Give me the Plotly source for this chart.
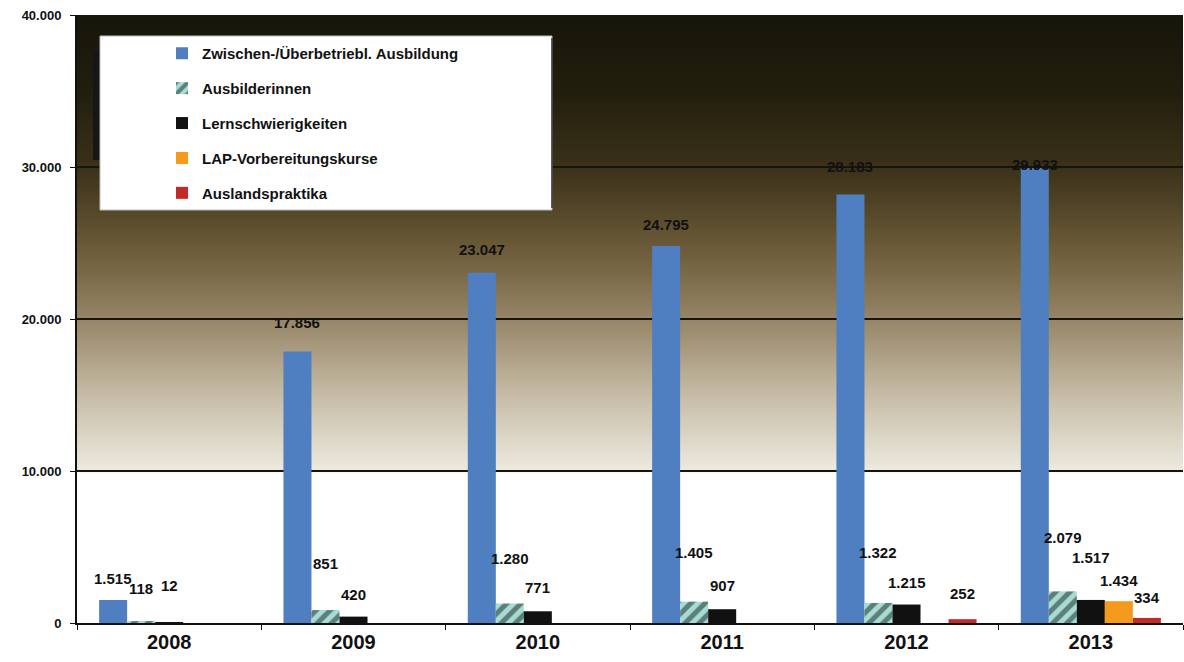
import plotly.graph_objects as go

# --- data -------------------------------------------------------------
years = ["2008", "2009", "2010", "2011", "2012", "2013"]
zwischen = [1515, 17856, 23047, 24795, 28183, 29933]
ausbilder = [118, 851, 1280, 1405, 1322, 2079]
lern = [12, 420, 771, 907, 1215, 1517]
lap = [None, None, None, None, None, 1434]
ausland = [None, None, None, None, 252, 334]

series_names = [
    "Zwischen-/Überbetriebl. Ausbildung",
    "Ausbilderinnen",
    "Lernschwierigkeiten",
    "LAP-Vorbereitungskurse",
    "Auslandspraktika",
]

# --- styling ----------------------------------------------------------
FONT = "Arial, Liberation Sans, sans-serif"
colors = ["#4f7fc0", "#a6dcd3", "#111111", "#f59a1c", "#c22b25"]
# vertical distance (px) of each value label above its bar
label_lift = [
    [21, 29, 23, 22, 28, 4],
    [33, 47, 45, 49, 50, 54],
    [37, 22, 24, 24, 22, 42],
    [0, 0, 0, 0, 0, 21],
    [0, 0, 0, 0, 26, 20],
]

W, H = 1184, 662
ML, MR, MT, MB = 77, 1, 15, 39
plot_w = W - ML - MR
BARGAP = 0.24
slot_px = plot_w / len(years) * (1 - BARGAP) / 5

fig = go.Figure()
all_series = [zwischen, ausbilder, lern, lap, ausland]
for i, (name, vals) in enumerate(zip(series_names, all_series)):
    marker = dict(color=colors[i], line=dict(width=0))
    if i == 1:
        marker["pattern"] = dict(shape="/", fgcolor="#13201f", size=10,
                                 solidity=0.5, fillmode="overlay")
    fig.add_trace(go.Bar(
        x=years, y=vals, name=name, marker=marker,
        legendgroup=f"g{i}",
    ))

# value labels above the bars (x given as category index)
for i, vals in enumerate(all_series):
    for j, v in enumerate(vals):
        if v is None:
            continue
        fig.add_annotation(
            x=j, y=v, xref="x", yref="y",
            text=f"{v:,}".replace(",", "."),
            showarrow=False, xanchor="center", yanchor="middle",
            xshift=(i - 2) * slot_px, yshift=label_lift[i][j],
            font=dict(family=FONT, size=15, color="#111", weight="bold"),
        )

# background gradient: dark at the top, fading to white near 10.000
stops = [
    (0, (252, 252, 250)),
    (9900, (250, 250, 246)),
    (10100, (236, 233, 222)),
    (15000, (198, 188, 166)),
    (20000, (150, 133, 102)),
    (25000, (104, 88, 54)),
    (30000, (58, 49, 24)),
    (35000, (34, 30, 14)),
    (40000, (22, 22, 10)),
]


def grad_color(v):
    for (a, ca), (b, cb) in zip(stops[:-1], stops[1:]):
        if a <= v <= b:
            t = (v - a) / (b - a)
            c = [round(ca[k] + (cb[k] - ca[k]) * t) for k in range(3)]
            return f"rgb({c[0]},{c[1]},{c[2]})"
    return "white"


shapes = []
step = 200
for y0 in range(9800, 40000, step):
    shapes.append(dict(
        type="rect", xref="paper", yref="y", x0=0, x1=1,
        y0=y0, y1=min(y0 + 2 * step, 40000),
        fillcolor=grad_color(y0 + step / 2), line=dict(width=0), layer="below",
    ))


def px_x(p):
    return (p - ML) / plot_w


def px_y(p):
    return (H - MB - p) / (H - MT - MB)


# legend panel
shapes.append(dict(type="rect", xref="paper", yref="paper",
                   x0=px_x(93), x1=px_x(101), y0=px_y(160), y1=px_y(52),
                   fillcolor="#161616", line=dict(width=0), layer="above"))
shapes.append(dict(type="rect", xref="paper", yref="paper",
                   x0=px_x(100), x1=px_x(552), y0=px_y(210), y1=px_y(36),
                   fillcolor="white", line=dict(color="#bdbdbd", width=1),
                   layer="above"))
shapes.append(dict(type="line", xref="paper", yref="paper",
                   x0=px_x(552), x1=px_x(552), y0=px_y(208), y1=px_y(38),
                   line=dict(color="#333", width=1.5), layer="above"))

fig.update_layout(
    width=W, height=H,
    margin=dict(l=ML, r=MR, t=MT, b=MB),
    paper_bgcolor="white", plot_bgcolor="rgba(0,0,0,0)",
    separators=",.",
    barmode="group", bargap=BARGAP, bargroupgap=0,
    shapes=shapes,
    font=dict(family=FONT, color="#111"),
    legend=dict(
        x=px_x(162), y=px_y(37), xanchor="left", yanchor="top",
        bgcolor="rgba(0,0,0,0)", borderwidth=0,
        tracegroupgap=12.4,
        font=dict(family=FONT, size=15, color="#111", weight="bold"),
        itemclick=False,
    ),
    xaxis=dict(
        type="category", range=[-0.5, 5.5],
        showline=True, linecolor="#111", linewidth=2,
        ticks="outside", tickson="boundaries", ticklen=5, tickcolor="#111",
        tickfont=dict(family=FONT, size=20, color="#111", weight="bold"),
        showgrid=False,
    ),
    yaxis=dict(
        range=[0, 40000], dtick=10000, tickformat=",d",
        showline=True, linecolor="#111", linewidth=2,
        ticks="outside", ticklen=5, tickcolor="#111",
        ticklabelstandoff=6,
        showgrid=True, gridcolor="#15150c", gridwidth=2,
        zeroline=False,
        tickfont=dict(family=FONT, size=13, color="#111", weight="bold"),
    ),
)

fig.write_html("out.html")
